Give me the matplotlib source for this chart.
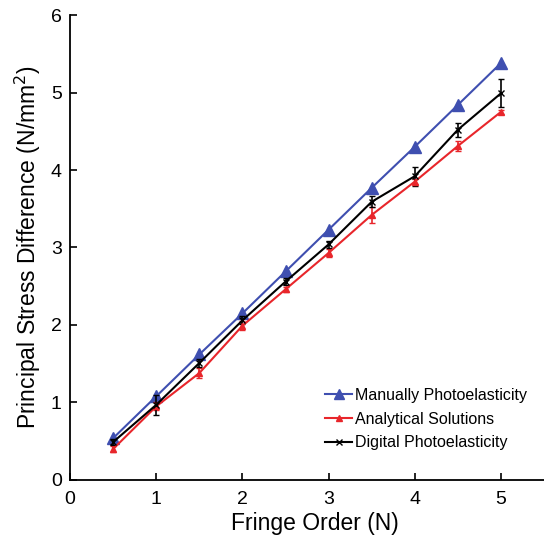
import matplotlib
matplotlib.use("Agg")
import matplotlib.pyplot as plt
from matplotlib.lines import Line2D

plt.rcParams['font.family'] = ['Liberation Sans', 'DejaVu Sans']

fringe = [0.5, 1, 1.5, 2, 2.5, 3, 3.5, 4, 4.5, 5]
manual = [0.54, 1.08, 1.62, 2.15, 2.69, 3.23, 3.77, 4.30, 4.84, 5.38]
analytical = [0.40, 0.95, 1.38, 1.99, 2.46, 2.93, 3.42, 3.85, 4.31, 4.75]
analytical_err = [0.04, 0.05, 0.07, 0.06, 0.03, 0.05, 0.10, 0.03, 0.06, 0.03]
digital = [0.49, 0.97, 1.51, 2.06, 2.56, 3.04, 3.59, 3.92, 4.52, 4.99]
digital_err = [0.04, 0.13, 0.05, 0.05, 0.05, 0.05, 0.07, 0.12, 0.09, 0.18]
labels = ['Manually Photoelasticity', 'Analytical Solutions', 'Digital Photoelasticity']

blue = '#3f4fb0'
red = '#e8262b'

fig = plt.figure(figsize=(5.44, 5.38), dpi=100)
ax = fig.add_axes([0.129, 0.108, 0.871, 0.864])

ax.plot(fringe, manual, color=blue, lw=1.5, marker='^', ms=9)
ax.errorbar(fringe, analytical, yerr=analytical_err, color=red, lw=1.5,
            marker='^', ms=5, capsize=2.5, elinewidth=1.2)
ax.errorbar(fringe, digital, yerr=digital_err, color='black', lw=1.5,
            marker='x', ms=5, capsize=2.5, elinewidth=1.2)

ax.set_xlim(0, 5.5)
ax.set_ylim(0, 6)
ax.set_xticks([0, 1, 2, 3, 4, 5])
ax.set_yticks([0, 1, 2, 3, 4, 5, 6])
ax.spines['top'].set_visible(False)
ax.spines['right'].set_visible(False)
ax.tick_params(direction='in', labelsize=14, length=5, width=1.2)
ax.tick_params(axis='x', pad=8)
ax.tick_params(axis='y', pad=6)
for s in ['left', 'bottom']:
    ax.spines[s].set_linewidth(1.3)

ax.set_xlabel('Fringe Order (N)', fontsize=16.5, labelpad=4)
ax.xaxis.set_label_coords(0.516, -0.068)
ax.set_ylabel('Principal Stress Difference (N/mm$^2$)', fontsize=16.5, labelpad=6)

handles = [
    Line2D([], [], color=blue, lw=1.5, marker='^', ms=7),
    Line2D([], [], color=red, lw=1.5, marker='^', ms=4),
    Line2D([], [], color='black', lw=1.5, marker='x', ms=4),
]
ax.legend(handles, labels, loc='upper left', bbox_to_anchor=(0.525, 0.212),
          frameon=False, fontsize=11.5, handlelength=1.7, handletextpad=0.15,
          labelspacing=0.55, borderaxespad=0)

fig.savefig('out.png', dpi=100)
